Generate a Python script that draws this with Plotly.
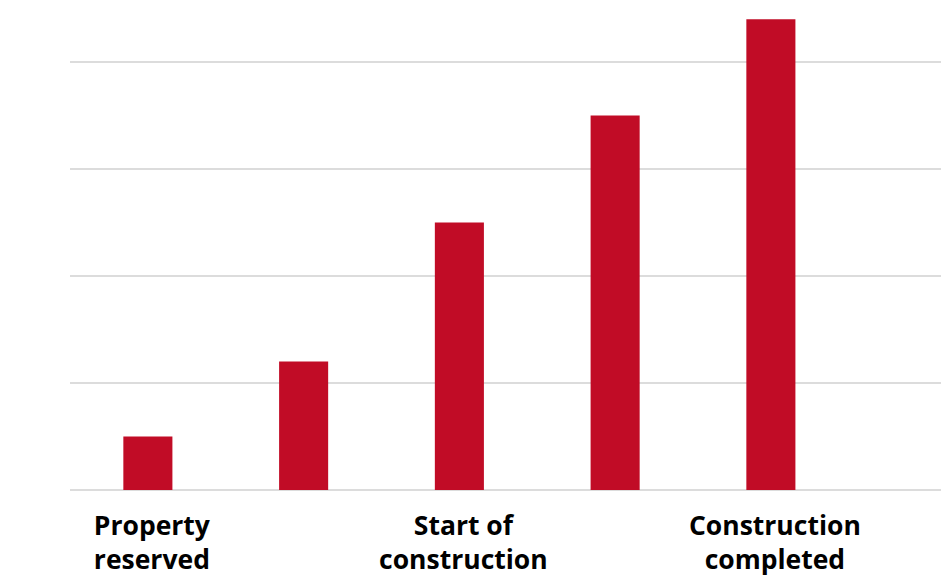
import plotly.graph_objects as go

categories = ["Property reserved", "Stage 2", "Start of construction", "Stage 4", "Construction completed"]
values = [0.5, 1.2, 2.5, 3.5, 4.4]
tick_labels = ["Property<br>reserved", "", "Start of<br>construction", "", "Construction<br>completed"]

x_pos = list(range(len(categories)))

fig = go.Figure(go.Bar(
    x=x_pos, y=values,
    marker=dict(color="#C10C26", line=dict(width=0)),
    width=0.315,
    hovertext=categories,
))

fig.update_layout(
    width=949, height=586,
    margin=dict(l=62, r=0, t=0, b=104),
    paper_bgcolor="white", plot_bgcolor="white",
    showlegend=False,
    font=dict(family="Open Sans", color="#000000"),
    xaxis=dict(
        range=[-0.5, 5.195],
        tickmode="array", tickvals=x_pos, ticktext=tick_labels,
        tickfont=dict(family="Open Sans", size=26.5, color="#000000", weight="bold"),
        ticklabelstandoff=17, ticklabelshift=4,
        showgrid=False, zeroline=False, showline=False, ticks="",
    ),
    yaxis=dict(
        range=[0, 4.505],
        tickvals=[0, 1, 2, 3, 4],
        showticklabels=False,
        showgrid=True, gridcolor="#DCDCDC", gridwidth=1.5,
        zeroline=True, zerolinecolor="#DCDCDC", zerolinewidth=1.5,
        showline=False, ticks="",
    ),
)

fig.write_html("out.html")
